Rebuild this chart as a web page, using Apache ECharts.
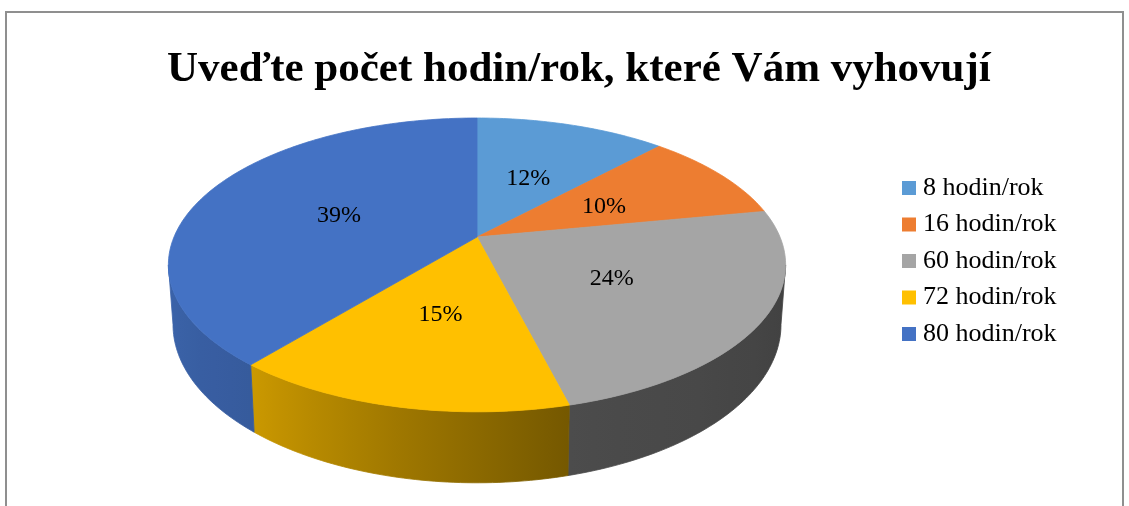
<!DOCTYPE html>
<html>
<head>
<meta charset="utf-8">
<title>Uveďte počet hodin/rok, které Vám vyhovují</title>
<script src="https://cdn.jsdelivr.net/npm/echarts@6/dist/echarts.min.js"></script>
<style>
  html, body { margin: 0; padding: 0; background: #fff; }
  #chart { width: 1129px; height: 506px; }
</style>
</head>
<body>
<div id="chart"></div>
<script>
var categories = ['8 hodin/rok', '16 hodin/rok', '60 hodin/rok', '72 hodin/rok', '80 hodin/rok'];
var percents = [12, 10, 24, 15, 39];
var colors = ['#5B9BD5', '#ED7D31', '#A5A5A5', '#FFC000', '#4472C4'];

// tilted disc drawn with a small perspective (front looks bigger, like excel 3d pie)
var CX = 477, CY = 237, RX = 303, RY = 141.6, K = 0.19, DEPTH = 57.5, BOTTOM_SHRINK = 0.985;
var VIS0 = 90 + Math.asin(K) * 180 / Math.PI, VIS1 = 360 - VIS0;
var FONT = '"Liberation Serif", "Times New Roman", serif';

var total = percents.reduce(function (s, v) { return s + v; }, 0);
var startAngles = [];
(function () {
  var acc = 0;
  percents.forEach(function (v) {
    startAngles.push(acc / total * 360);
    acc += v;
  });
})();

function project(aDeg, r) {
  var a = aDeg * Math.PI / 180;
  var u = r * Math.sin(a), v = -r * Math.cos(a);
  var w = 1 - K * v;
  return [CX + RX * u / w, CY + RY * v / w];
}

function projectBottom(aDeg) {
  var a = aDeg * Math.PI / 180;
  var u = Math.sin(a), v = -Math.cos(a);
  var w = 1 - K * v;
  return [CX + RX * BOTTOM_SHRINK * u / w, CY + (RY * v + DEPTH) / w];
}

// how dark the side wall gets, by angle (light comes from the left)
function shade(a) {
  var pts = [[100, 0.39], [166, 0.46], [220, 0.80], [260, 0.88]];
  if (a <= pts[0][0]) return pts[0][1];
  for (var i = 1; i < pts.length; i++) {
    if (a <= pts[i][0]) {
      var t = (a - pts[i - 1][0]) / (pts[i][0] - pts[i - 1][0]);
      return pts[i - 1][1] + t * (pts[i][1] - pts[i - 1][1]);
    }
  }
  return pts[pts.length - 1][1];
}

function darken(hex, f) {
  var n = parseInt(hex.slice(1), 16);
  var r = Math.round(((n >> 16) & 255) * f);
  var g = Math.round(((n >> 8) & 255) * f);
  var b = Math.round((n & 255) * f);
  return 'rgb(' + r + ',' + g + ',' + b + ')';
}

function renderSlice(i) {
  return function (params, api) {
    var a0 = startAngles[i];
    var a1 = a0 + api.value(0) / total * 360;
    var color = colors[i];
    var children = [];

    // side wall (only the front half is visible)
    var s0 = Math.max(a0, VIS0), s1 = Math.min(a1, VIS1);
    if (s1 > s0) {
      var topPts = [], botPts = [];
      for (var a = s0; a < s1; a += 1) {
        topPts.push(project(a, 1));
        botPts.push(projectBottom(a));
      }
      topPts.push(project(s1, 1));
      botPts.push(projectBottom(s1));
      var xRight = project(s0, 1)[0], xLeft = project(s1, 1)[0];
      var stops = [];
      for (var j = 0; j <= 8; j++) {
        var aj = s0 + (s1 - s0) * j / 8;
        stops.push({
          offset: Math.min(1, Math.max(0, (project(aj, 1)[0] - xLeft) / (xRight - xLeft))),
          color: darken(color, shade(aj))
        });
      }
      stops.sort(function (p, q) { return p.offset - q.offset; });
      var grad = new echarts.graphic.LinearGradient(xLeft, 0, xRight, 0, stops, true);
      children.push({
        type: 'polygon',
        z2: 1,
        shape: { points: topPts.concat(botPts.reverse()) },
        style: { fill: grad, stroke: grad, lineWidth: 0.8 }
      });
    }

    // top face
    var face = [[CX, CY]];
    for (var b = a0; b < a1; b += 1) face.push(project(b, 1));
    face.push(project(a1, 1));
    children.push({
      type: 'polygon',
      z2: 10,
      shape: { points: face },
      style: { fill: color, stroke: color, lineWidth: 0.8 }
    });

    // percentage label
    var lp = project((a0 + a1) / 2, 0.5);
    children.push({
      type: 'text',
      z2: 20,
      x: lp[0],
      y: lp[1] + 2,
      style: {
        text: Math.round(api.value(0) / total * 100) + '%',
        fontSize: 24,
        fontFamily: FONT,
        fill: '#000',
        align: 'center',
        verticalAlign: 'middle'
      }
    });

    return { type: 'group', children: children };
  };
}

var chart = echarts.init(document.getElementById('chart'));
chart.setOption({
  animation: false,
  backgroundColor: '#fff',
  color: colors,
  title: {
    text: 'Uveďte počet hodin/rok, které Vám vyhovují',
    left: 167,
    top: 48,
    padding: 0,
    textStyle: {
      fontFamily: FONT,
      fontSize: 43,
      fontWeight: 'bold',
      color: '#000'
    }
  },
  legend: {
    orient: 'vertical',
    left: 902,
    top: 175,
    padding: 0,
    itemWidth: 14,
    itemHeight: 14,
    itemGap: 10.5,
    icon: 'rect',
    selectedMode: false,
    data: categories,
    textStyle: {
      fontFamily: FONT,
      fontSize: 26,
      color: '#000',
      padding: [0, 0, 0, 2]
    }
  },
  graphic: [{
    type: 'rect',
    silent: true,
    shape: { x: 6, y: 12, width: 1117, height: 520 },
    style: { fill: 'none', stroke: '#8f8f8f', lineWidth: 2 }
  }],
  series: categories.map(function (name, i) {
    return {
      type: 'custom',
      name: name,
      coordinateSystem: 'none',
      silent: true,
      itemStyle: { color: colors[i] },
      renderItem: renderSlice(i),
      data: [percents[i]]
    };
  })
});
</script>
</body>
</html>
